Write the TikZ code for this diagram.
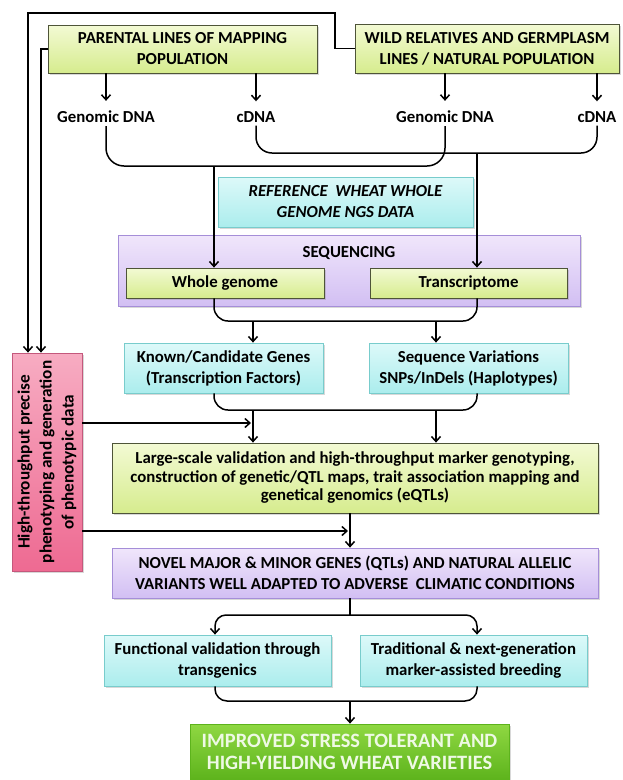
\documentclass[tikz,border=0pt]{standalone}
\usepackage{fontspec}
\setmainfont{Carlito}
\usetikzlibrary{arrows.meta,shadows}
\definecolor{ytop}{HTML}{F3FAD4}
\definecolor{ybot}{HTML}{D6EC8E}
\definecolor{yborder}{HTML}{4E5438}
\definecolor{ctop}{HTML}{DDF9F9}
\definecolor{cbot}{HTML}{ABEDED}
\definecolor{cborder}{HTML}{78CCCC}
\definecolor{ptop}{HTML}{F0E6FB}
\definecolor{pbot}{HTML}{D2BFF3}
\definecolor{pborder}{HTML}{A58ED8}
\definecolor{pkl}{HTML}{F7ACC2}
\definecolor{pkr}{HTML}{EE6A92}
\definecolor{pkborder}{HTML}{C4587C}
\definecolor{gtop}{HTML}{8FD842}
\definecolor{gbot}{HTML}{5DB31C}
\definecolor{gtext}{HTML}{EEF9E4}
\begin{document}
\begin{tikzpicture}[x=1pt,y=-1pt,
  bfont/.style={font=\bfseries\fontsize{16.8}{21}\selectfont},
  box/.style={bfont, line width=0.8pt, align=center, inner sep=0pt,
    drop shadow={shadow xshift=1.5pt, shadow yshift=-1.5pt, opacity=0.3}},
  ybox/.style={box, draw=yborder, top color=ytop, bottom color=ybot},
  cbox/.style={box, draw=cborder, top color=ctop, bottom color=cbot},
  pbox/.style={box, draw=pborder, top color=ptop, bottom color=pbot},
  pkbox/.style={box, draw=pkborder, top color=pkl, bottom color=pkr,
    font=\bfseries\fontsize{17.2}{22}\selectfont},
  gbox/.style={box, draw=gbot, top color=gtop, bottom color=gbot, text=gtext,
    font=\bfseries\fontsize{20.4}{21.5}\selectfont},
  lbl/.style={bfont, inner sep=3pt},
  ln/.style={line width=1.5pt},
  arr/.style={ln, -{Straight Barb[length=5pt,width=9pt]}}]
\useasboundingbox (0,0) rectangle (623,780);
\fill[white] (0,0) rectangle (623,780);

% nodes
\node[ybox, minimum width=269, minimum height=48] (p1) at (182.5,49) {PARENTAL LINES OF MAPPING\\POPULATION};
\node[ybox, minimum width=264, minimum height=49] (p2) at (487,48.5) {WILD RELATIVES AND GERMPLASM\\LINES / NATURAL POPULATION};
\node[lbl] (g1) at (106,117) {Genomic DNA};
\node[lbl] (c1) at (256,117) {cDNA};
\node[lbl] (g2) at (445,117) {Genomic DNA};
\node[lbl] (c2) at (597,117) {cDNA};
\node[cbox, font=\bfseries\itshape\fontsize{16.8}{21}\selectfont, minimum width=255, minimum height=50] (ref) at (345.5,202) {REFERENCE\ \ WHEAT WHOLE\\GENOME NGS DATA};
\node[pbox, minimum width=462, minimum height=71] (seq) at (349,270.5) {};
\node[lbl] (seqt) at (349,253) {SEQUENCING};
\node[ybox, minimum width=198, minimum height=30] (wg) at (225,283) {Whole genome};
\node[ybox, minimum width=197, minimum height=30] (tr) at (468.5,283) {Transcriptome};
\node[cbox, minimum width=199, minimum height=50] (kn) at (223.5,368) {Known/Candidate Genes\\(Transcription Factors)};
\node[cbox, minimum width=199, minimum height=50] (sv) at (468.5,368) {Sequence Variations\\SNPs/InDels (Haplotypes)};
\node[pkbox, rotate=90, minimum width=218, minimum height=70] (pk) at (47,462) {High-throughput precise\\phenotyping and generation\\of phenotypic data};
\node[ybox, minimum width=486, minimum height=70, font=\bfseries\fontsize{16.8}{18.5}\selectfont] (lg) at (355,478) {Large-scale validation and high-throughput marker genotyping,\\construction of genetic/QTL maps, trait association mapping and\\genetical genomics (eQTLs)};
\node[pbox, minimum width=486, minimum height=50] (nv) at (355,573) {NOVEL MAJOR \& MINOR GENES (QTLs) AND NATURAL ALLELIC\\VARIANTS WELL ADAPTED TO ADVERSE\ \ CLIMATIC CONDITIONS};
\node[cbox, minimum width=227, minimum height=51] (fv) at (217.5,660.5) {Functional validation through\\transgenics};
\node[cbox, minimum width=227, minimum height=51] (tb) at (473.5,660.5) {Traditional \& next-generation\\marker-assisted breeding};
\node[gbox, minimum width=319, minimum height=56] (fin) at (349.5,752) {IMPROVED STRESS TOLERANT AND\\HIGH-YIELDING WHEAT VARIETIES};

% coordinates
\coordinate (o1) at (28,13);
\coordinate (o2) at (335,13);
\coordinate (i1) at (41,49);
\coordinate (gj) at (214,166);
\coordinate (cj) at (477,153);
\coordinate (s1) at (253,321);
\coordinate (s2) at (436,321);
\coordinate (k1) at (253,410);
\coordinate (k2) at (436,410);
\coordinate (h1) at (253,423);
\coordinate (m1) at (350,531);
\coordinate (n1) at (350,615);
\coordinate (f1) at (215,615);
\coordinate (f2) at (477,615);
\coordinate (q1) at (350,701);

% connectors
\draw[arr] (p2.west) -| (o2) -- (o1) -- (o1 |- pk.east);
\draw[arr] (p1.west) -- (i1) -- (i1 |- pk.east);
\draw[arr] (p1.south -| g1) -- ([yshift=7pt]g1.north);
\draw[arr] (p1.south -| c1) -- ([yshift=7pt]c1.north);
\draw[arr] (p2.south -| g2) -- ([yshift=7pt]g2.north);
\draw[arr] (p2.south -| c2) -- ([yshift=7pt]c2.north);
\draw[ln, rounded corners=18] (g1.south) |- (gj) -| (g2.south);
\draw[ln, rounded corners=16] (c1.south) |- (cj) -| (c2.south);
\draw[arr] (gj) -- (gj |- wg.north);
\draw[arr] (cj) -- (cj |- tr.north);
\draw[ln, rounded corners=14] (gj |- wg.south) |- (s1) -- (s2) -| (cj |- tr.south);
\draw[arr] (s1) -- (s1 |- kn.north);
\draw[arr] (s2) -- (s2 |- sv.north);
\draw[ln, rounded corners=14] (gj |- kn.south) |- (k1) -- (k2) -| (cj |- sv.south);
\draw[arr] (k1) -- (k1 |- lg.north);
\draw[arr] (k2) -- (k2 |- lg.north);
\draw[arr] (pk.south |- h1) -- ([xshift=-2pt]h1);
\draw[arr] (lg.south -| m1) -- (m1 |- nv.north);
\draw[arr] (pk.south |- m1) -- ([xshift=-2pt]m1);
\draw[ln] (nv.south -| n1) -- (n1);
\draw[arr, rounded corners=11] (n1) -| (f1 |- fv.north);
\draw[arr, rounded corners=11] (n1) -| (f2 |- tb.north);
\draw[ln, rounded corners=12] (f1 |- fv.south) |- (q1) -| (f2 |- tb.south);
\draw[arr] (q1) -- (q1 |- fin.north);
\end{tikzpicture}
\end{document}
